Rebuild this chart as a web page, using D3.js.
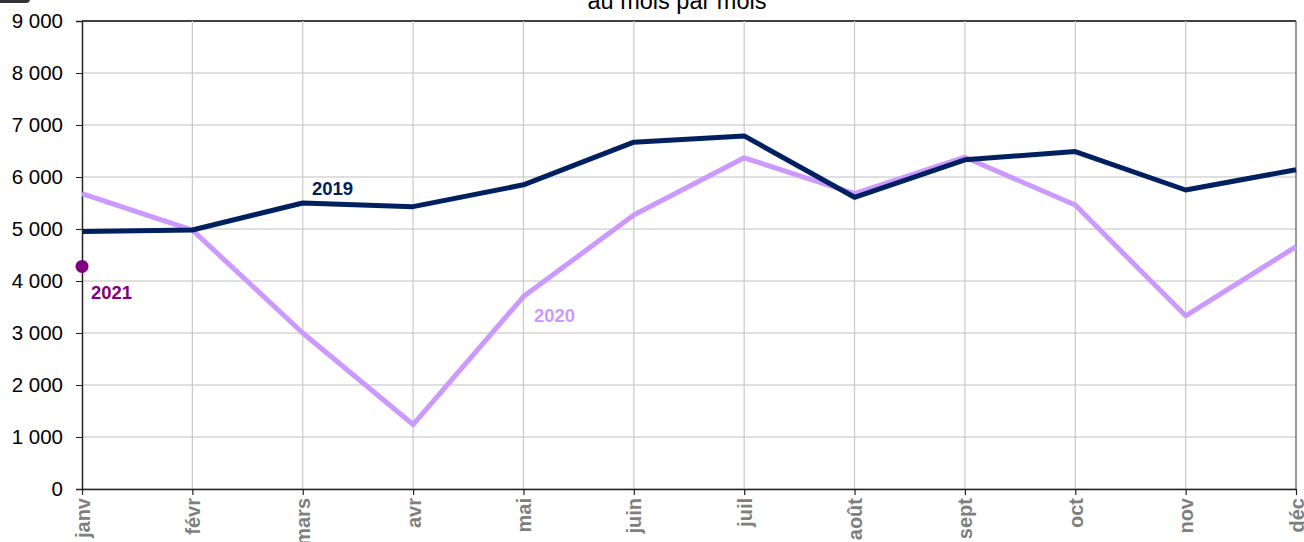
<!DOCTYPE html>
<html><head><meta charset="utf-8">
<script src="https://cdn.jsdelivr.net/npm/d3@7"></script>
<style>body{margin:0;background:#fff;}svg{display:block;font-family:"Liberation Sans",Arial,sans-serif;}</style>
</head><body><svg id="c" width="1304" height="542"></svg>
<script>
const months = ["janv","févr","mars","avr","mai","juin","juil","août","sept","oct","nov","déc"];
const values2019 = [4950,4980,5500,5430,5850,6670,6790,5610,6330,6490,5750,6140];
const values2020 = [5680,4980,3000,1240,3700,5270,6370,5680,6380,5460,3330,4660];
const values2021 = [4280];
const yTicks = [0,1000,2000,3000,4000,5000,6000,7000,8000,9000];
const title = "au mois par mois";

const svg = d3.select("#c");
const x = d3.scalePoint().domain(months).range([82,1296]);
const y = d3.scaleLinear().domain([0,9000]).range([489,21]);
const fmt = v => d3.format(",")(v).replace(/,/g," ");
const FF = "Liberation Sans, Arial, sans-serif";

// title (partially cut at top, as in reference)
svg.append("text").attr("x",677).attr("y",9).attr("text-anchor","middle")
  .style("font-size","23.5px").style("font-family",FF).attr("fill","#000").text(title);
svg.append("rect").attr("x",-10).attr("y",-10).attr("width",40).attr("height",13).attr("rx",4).attr("fill","#333");

// grid
svg.append("g").selectAll("line").data(yTicks).join("line")
  .attr("x1",82).attr("x2",1296).attr("y1",d=>y(d)).attr("y2",d=>y(d))
  .attr("stroke",d=>d===9000?"#000":"#bfbfbf").attr("stroke-width",d=>d===9000?1.5:1.2);
svg.append("g").selectAll("line").data(months.slice(1)).join("line")
  .attr("x1",d=>x(d)).attr("x2",d=>x(d)).attr("y1",21).attr("y2",489)
  .attr("stroke",(d,i)=>i===months.length-2?"#555":"#c8c8c8").attr("stroke-width",1.2);

// axes
const yAxis = svg.append("g").attr("transform","translate(82,0)")
  .call(d3.axisLeft(y).tickValues(yTicks).tickFormat(fmt).tickSize(6).tickPadding(13));
yAxis.select(".domain").attr("stroke","#222").attr("stroke-width",1.5);
yAxis.selectAll(".tick line").attr("stroke","#222");
yAxis.selectAll("text").style("font-size","20.5px").attr("fill","#000").style("font-family",FF);

const xAxis = svg.append("g").attr("transform","translate(0,489)")
  .call(d3.axisBottom(x).tickSize(6).tickSizeOuter(0));
xAxis.select(".domain").attr("stroke","#222").attr("stroke-width",1.5);
xAxis.selectAll(".tick line").attr("stroke","#222").attr("stroke-width",1.2);
xAxis.selectAll("text").style("font-size","20px").style("font-weight","bold").attr("fill","#7f7f7f")
  .style("font-family",FF)
  .attr("transform","rotate(-90)").attr("text-anchor","end").attr("x",-9).attr("y",0).attr("dy","0.35em");

// lines
const line = d3.line().x((d,i)=>x(months[i])).y(d=>y(d));
svg.append("path").datum(values2020).attr("d",line).attr("fill","none")
  .attr("stroke","#cc99ff").attr("stroke-width",5).attr("stroke-linejoin","round");
svg.append("path").datum(values2019).attr("d",line).attr("fill","none")
  .attr("stroke","#002060").attr("stroke-width",5).attr("stroke-linejoin","round");
svg.append("g").selectAll("circle").data(values2021).join("circle")
  .attr("cx",(d,i)=>x(months[i])).attr("cy",d=>y(d)).attr("r",6.5).attr("fill","#800080");

// labels
const lbl = (t,xx,yy,c)=>svg.append("text").attr("x",xx).attr("y",yy).style("font-size","18.5px")
  .style("font-family",FF).style("font-weight","bold").attr("fill",c).text(t);
lbl("2019",312,195,"#002060");
lbl("2020",534,322,"#cc99ff");
lbl("2021",91,299,"#800080");
</script></body></html>
